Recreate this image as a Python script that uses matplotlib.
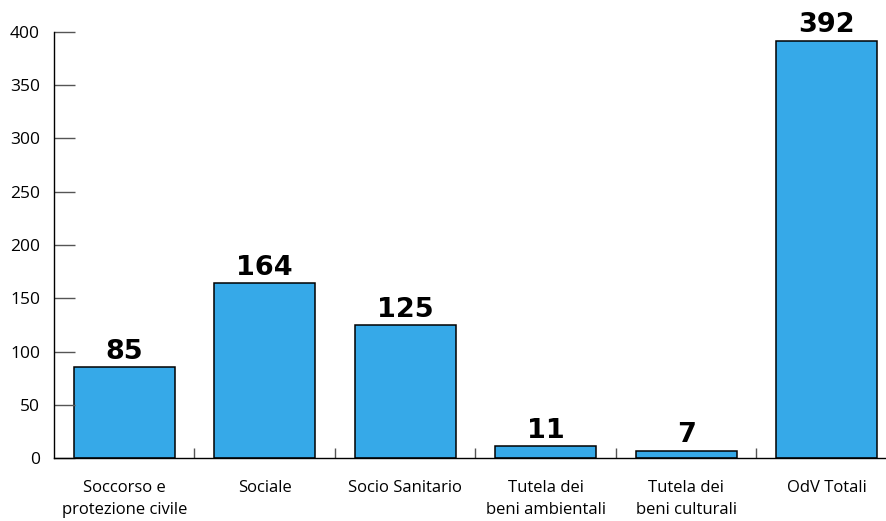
import matplotlib.pyplot as plt
from matplotlib.ticker import FixedLocator

categorie = ["Soccorso e\nprotezione civile", "Sociale", "Socio Sanitario",
             "Tutela dei\nbeni ambientali", "Tutela dei\nbeni culturali", "OdV Totali"]
valori = [85, 164, 125, 11, 7, 392]

plt.rcParams['font.family'] = ['Open Sans', 'DejaVu Sans']

fig = plt.figure(figsize=(8.87, 5.21), dpi=100)
ax = fig.add_axes([54 / 887, 63 / 521, 1 - 54 / 887, 426 / 521])

x = range(len(valori))
bars = ax.bar(x, valori, width=0.72, color='#36A9E8', edgecolor='black', linewidth=1.1)

for xi, v in zip(x, valori):
    ax.annotate(str(v), (xi, v), xytext=(0, 1.5), textcoords='offset points',
                ha='center', va='bottom', fontsize=19.5, fontweight='bold',
                family='DejaVu Sans')

ax.set_xlim(-0.5, 5.43)
ax.set_ylim(0, 400)
ax.set_yticks(range(0, 401, 50))
ax.set_xticks(list(x))
ax.set_xticklabels(categorie, linespacing=1.45)
ax.xaxis.set_minor_locator(FixedLocator([0.5, 1.5, 2.5, 3.5, 4.5]))

ax.tick_params(axis='y', direction='in', length=15, width=1, color='#555555',
               labelsize=12.5, pad=10)
ax.tick_params(axis='x', which='major', length=0, labelsize=12, pad=16)
ax.tick_params(axis='x', which='minor', direction='in', length=7, width=1, color='#555555')

for s in ['top', 'right']:
    ax.spines[s].set_visible(False)
ax.spines['left'].set_linewidth(1)
ax.spines['bottom'].set_linewidth(1)

fig.savefig("out.png", dpi=100)
